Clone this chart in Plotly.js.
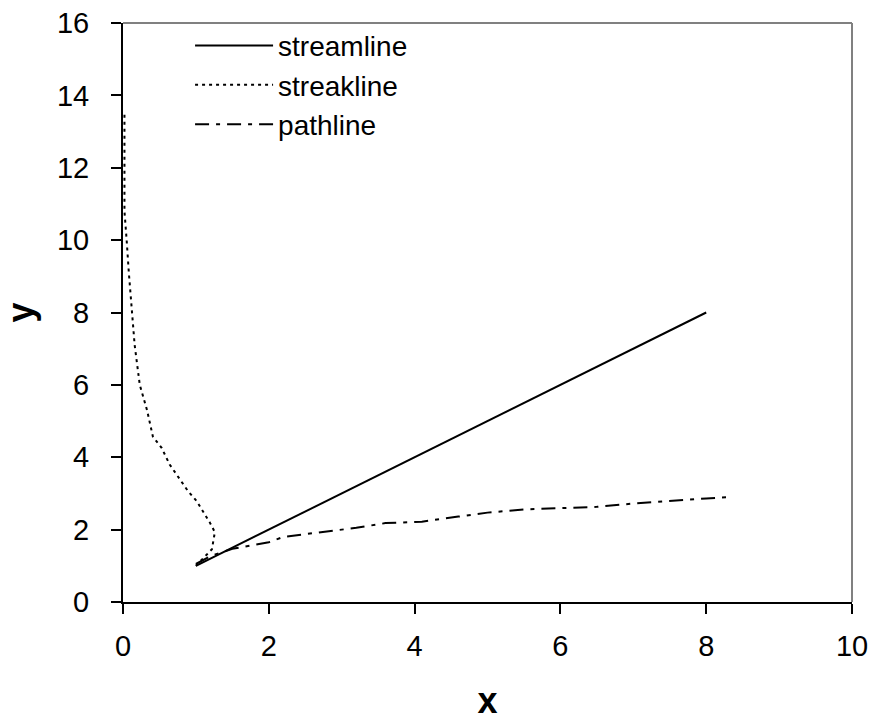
<!DOCTYPE html>
<html>
<head>
<meta charset="utf-8">
<script src="https://cdn.plot.ly/plotly-3.0.1.min.js"></script>
<style>html,body{margin:0;padding:0;background:#fff;}#chart{width:869px;height:721px;}</style>
</head>
<body>
<div id="chart"></div>
<script>
// Data
var streamX = [1, 2, 3, 4, 5, 6, 7, 8];
var streamY = [1, 2, 3, 4, 5, 6, 7, 8];

var streakX = [1.0, 1.1, 1.22, 1.26, 1.19, 1.01, 0.89, 0.78, 0.64, 0.53, 0.41, 0.33, 0.23, 0.16, 0.11, 0.08, 0.05, 0.02, 0.02];
var streakY = [1.0, 1.2, 1.46, 1.93, 2.2, 2.79, 3.07, 3.39, 3.8, 4.26, 4.57, 5.3, 6.0, 7.1, 8.3, 9.1, 10.0, 10.8, 13.5];

var pathX = [1.0, 1.2, 1.5, 1.8, 2.0, 2.2, 2.7, 3.2, 3.6, 4.1, 4.6, 5.0, 5.5, 6.0, 6.5, 7.0, 7.5, 8.0, 8.33];
var pathY = [1.05, 1.27, 1.47, 1.58, 1.65, 1.8, 1.93, 2.05, 2.18, 2.22, 2.36, 2.47, 2.56, 2.6, 2.63, 2.72, 2.8, 2.86, 2.9];

var names = ['streamline', 'streakline', 'pathline'];

var traces = [
  {x: streamX, y: streamY, name: names[0], legendgroup: 'a', mode: 'lines', line: {color: '#000', width: 2, dash: 'solid'}},
  {x: streakX, y: streakY, name: names[1], legendgroup: 'b', mode: 'lines', line: {color: '#000', width: 2, dash: '3px,4px'}},
  {x: pathX, y: pathY, name: names[2], legendgroup: 'c', mode: 'lines', line: {color: '#000', width: 2, dash: '14px,7px,4px,7px'}}
];

var font = {family: 'Liberation Sans, Arial, sans-serif', color: '#000'};

var layout = {
  width: 869, height: 721,
  margin: {l: 123, r: 17, t: 23, b: 119},
  paper_bgcolor: '#fff', plot_bgcolor: '#fff',
  font: {family: font.family, color: '#000', size: 29},
  showlegend: true,
  legend: {
    x: 0.092, y: 1.004, xanchor: 'left', yanchor: 'top',
    bgcolor: 'rgba(0,0,0,0)', borderwidth: 0,
    font: {family: font.family, size: 28, color: '#000'},
    itemwidth: 78, tracegroupgap: 0
  },
  xaxis: {
    range: [0, 10], dtick: 2, tick0: 0,
    showgrid: false, zeroline: false,
    showline: true, linecolor: '#000', linewidth: 2,
    ticks: 'outside', ticklen: 10, tickwidth: 2, tickcolor: '#000',
    ticklabelstandoff: 7,
    tickfont: {family: font.family, size: 29, color: '#000'},
    title: {text: '<b>x</b>', font: {family: font.family, size: 36, color: '#000'}, standoff: 38}
  },
  yaxis: {
    range: [0, 16], dtick: 2, tick0: 0,
    showgrid: false, zeroline: false,
    showline: true, linecolor: '#000', linewidth: 2,
    ticks: 'outside', ticklen: 10, tickwidth: 2, tickcolor: '#000',
    ticklabelstandoff: 16,
    tickfont: {family: font.family, size: 29, color: '#000'},
    title: {text: '<b>y</b>', font: {family: font.family, size: 36, color: '#000'}, standoff: 16}
  },
  shapes: [
    {type: 'line', xref: 'paper', yref: 'paper', x0: 0, x1: 1, y0: 1, y1: 1, line: {color: '#808080', width: 2}},
    {type: 'line', xref: 'paper', yref: 'paper', x0: 1, x1: 1, y0: 0, y1: 1, line: {color: '#808080', width: 2}}
  ]
};

Plotly.newPlot('chart', traces, layout, {displayModeBar: false, staticPlot: true});
</script>
</body>
</html>
